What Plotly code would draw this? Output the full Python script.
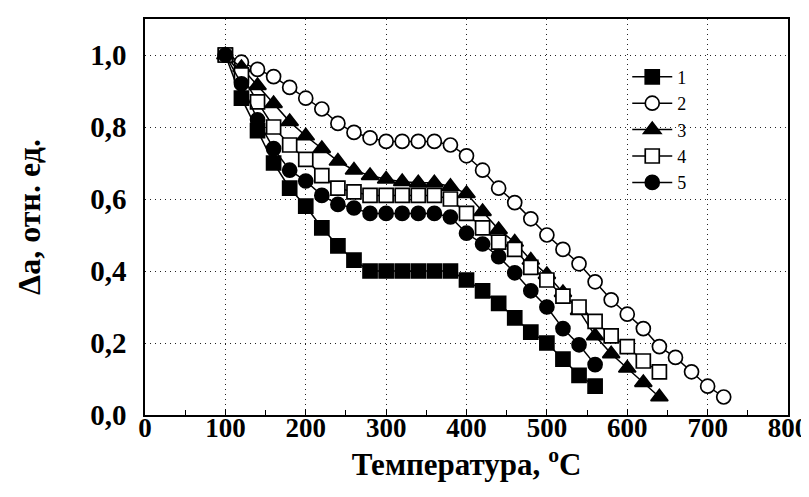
import plotly.graph_objects as go

# ── Données ──────────────────────────────────────────────────────────────────

T_1 = list(range(100, 561, 20))
DA_1 = [1.00, 0.88, 0.79, 0.70, 0.63, 0.58, 0.52, 0.47, 0.43, 0.40, 0.40, 0.40,
        0.40, 0.40, 0.40, 0.375, 0.345, 0.31, 0.27, 0.23, 0.20, 0.155, 0.11, 0.08]

T_2 = list(range(100, 721, 20))
DA_2 = [1.00, 0.98, 0.96, 0.94, 0.91, 0.88, 0.85, 0.81, 0.785, 0.77, 0.76, 0.76,
        0.76, 0.76, 0.75, 0.72, 0.68, 0.63, 0.59, 0.545, 0.50, 0.46, 0.42, 0.37,
        0.32, 0.28, 0.24, 0.19, 0.16, 0.12, 0.08, 0.05]

T_3 = list(range(100, 641, 20))
DA_3 = [1.00, 0.965, 0.915, 0.865, 0.815, 0.775, 0.74, 0.705, 0.68, 0.665, 0.655,
        0.648, 0.645, 0.645, 0.635, 0.615, 0.565, 0.515, 0.48, 0.43, 0.39, 0.34,
        0.29, 0.22, 0.17, 0.13, 0.09, 0.05]

T_4 = list(range(100, 641, 20))
DA_4 = [1.00, 0.945, 0.87, 0.80, 0.75, 0.71, 0.665, 0.63, 0.62, 0.61, 0.61, 0.61,
        0.61, 0.61, 0.60, 0.56, 0.52, 0.48, 0.46, 0.41, 0.375, 0.33, 0.30, 0.26,
        0.22, 0.19, 0.15, 0.12]

T_5 = list(range(100, 561, 20))
DA_5 = [1.00, 0.92, 0.82, 0.74, 0.68, 0.65, 0.61, 0.585, 0.575, 0.56, 0.56, 0.56,
        0.56, 0.56, 0.55, 0.505, 0.475, 0.44, 0.395, 0.345, 0.30, 0.24, 0.195, 0.14]

X_TICKS = [0, 100, 200, 300, 400, 500, 600, 700, 800]
X_LABELS = ["0", "100", "200", "300", "400", "500", "600", "700", "800"]
Y_TICKS = [0.0, 0.2, 0.4, 0.6, 0.8, 1.0]
Y_LABELS = ["0,0", "0,2", "0,4", "0,6", "0,8", "1,0"]

SERIES = [
    ("1", T_1, DA_1, "square", "black"),
    ("2", T_2, DA_2, "circle", "white"),
    ("3", T_3, DA_3, "triangle-up", "black"),
    ("4", T_4, DA_4, "square", "white"),
    ("5", T_5, DA_5, "circle", "black"),
]

FONT = "Liberation Serif"

fig = go.Figure()

for nom, x, y, symbole, remplissage in SERIES:
    taille = 15 if symbole == "triangle-up" else 14
    fig.add_trace(go.Scatter(
        x=x, y=y, name=nom,
        mode="lines+markers",
        line=dict(color="black", width=1.5),
        marker=dict(symbol=symbole, size=taille, color=remplissage,
                    line=dict(color="black", width=1.7)),
    ))

fig.update_layout(
    width=809, height=497,
    margin=dict(l=137, r=24, t=9, b=90),
    paper_bgcolor="white",
    plot_bgcolor="white",
    font=dict(family=FONT, size=22, color="black"),
    showlegend=True,
    legend=dict(
        x=0.75, y=0.9, xanchor="left", yanchor="top",
        bgcolor="rgba(0,0,0,0)",
        font=dict(family=FONT, size=18, color="black"),
        tracegroupgap=0, itemwidth=40,
    ),
)

fig.update_xaxes(
    range=[0, 800],
    tickvals=X_TICKS, ticktext=["<b>%s</b>" % t for t in X_LABELS],
    showline=True, mirror=True, linecolor="black", linewidth=1.5,
    showgrid=True, gridcolor="#222222", griddash="1px,4px", gridwidth=1,
    zeroline=False,
    ticks="inside", ticklen=6, tickcolor="black", tickwidth=1.2,
    ticklabelstandoff=-12,
    minor=dict(ticks="inside", tickvals=[50, 150, 250, 350, 450, 550, 650, 750],
               ticklen=5, tickcolor="black", showgrid=False),
    tickfont=dict(family=FONT, size=27, color="black"),
    title=dict(text="<b>Температура, <sup>o</sup>C</b>", standoff=4,
               font=dict(family=FONT, size=31, color="black")),
)

fig.update_yaxes(
    range=[0, 1.1],
    tickvals=Y_TICKS, ticktext=["<b>%s</b>" % t for t in Y_LABELS],
    showline=True, mirror=True, linecolor="black", linewidth=1.5,
    showgrid=True, gridcolor="#222222", griddash="1px,4px", gridwidth=1,
    zeroline=False,
    ticks="", ticklabelstandoff=11,
    tickfont=dict(family=FONT, size=29, color="black"),
    title=dict(text="<b>Δa, отн. ед.</b>", standoff=40,
               font=dict(family=FONT, size=32, color="black")),
)

fig.write_html("out.html")
